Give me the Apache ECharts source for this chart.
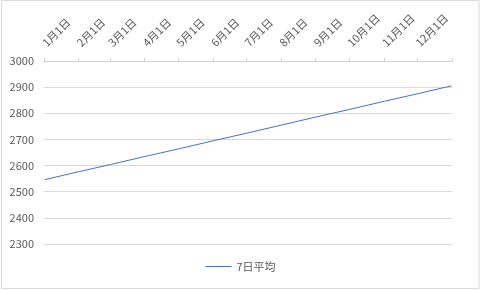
<!DOCTYPE html>
<html>
<head>
<meta charset="utf-8">
<script src="https://cdn.jsdelivr.net/npm/echarts@6/dist/echarts.min.js"></script>
<style>
html,body{margin:0;padding:0;background:#fff;}
#chart{width:481px;height:290px;}
</style>
</head>
<body>
<div id="chart"></div>
<script>
// Series values read at the start of each month (plus the last day)
const pointDates = ['2021-01-01','2021-02-01','2021-03-01','2021-04-01','2021-05-01','2021-06-01','2021-07-01','2021-08-01','2021-09-01','2021-10-01','2021-11-01','2021-12-01','2021-12-31'];
const avgValues  = [2546, 2577, 2604, 2635, 2664, 2695, 2724, 2755, 2786, 2815, 2846, 2875, 2905];
const seriesName = '7日平均';
const yMin = 2300, yMax = 3000, yStep = 100;

// Daily category axis for 2021
const days = [];
for (let d = new Date(Date.UTC(2021,0,1)); d.getUTCFullYear() === 2021; d.setUTCDate(d.getUTCDate()+1)) {
  const m = String(d.getUTCMonth()+1).padStart(2,'0');
  const dd = String(d.getUTCDate()).padStart(2,'0');
  days.push('2021-' + m + '-' + dd);
}
const isMonthStart = (i) => days[i] && days[i].slice(8) === '01';
const data = days.map(() => null);
pointDates.forEach((dt, k) => { data[days.indexOf(dt)] = avgValues[k]; });

const font = 'Noto Sans CJK JP';
const chart = echarts.init(document.getElementById('chart'));
chart.setOption({
  animation: false,
  textStyle: {fontFamily: font},
  graphic: [{type:'rect', shape:{x:1.5, y:0.5, width:477.5, height:288}, style:{fill:'none', stroke:'#d9d9d9', lineWidth:1}}],
  grid: {left:44, right:29, top:61, bottom:46, containLabel:false},
  legend: {
    bottom: 13, left: 'center',
    itemWidth: 26, itemHeight: 1, itemGap: 4,
    icon: 'rect',
    textStyle: {color:'#595959', fontSize:11, fontFamily: font},
    data: [seriesName]
  },
  xAxis: {
    type: 'category',
    position: 'top',
    data: days,
    boundaryGap: true,
    axisLine: {lineStyle:{color:'#d0d0d0'}},
    axisTick: {show:true, interval: (i) => isMonthStart(i), length: 3, lineStyle:{color:'#d0d0d0'}},
    axisLabel: {
      interval: (i) => isMonthStart(i),
      rotate: -45,
      margin: 9,
      padding: [0, 0, 0, 5],
      verticalAlign: 'bottom',
      color: '#595959',
      fontSize: 11,
      fontFamily: font,
      formatter: (v) => parseInt(v.slice(5,7),10) + '月' + parseInt(v.slice(8),10) + '日'
    },
    splitLine: {show:false}
  },
  yAxis: {
    type: 'value',
    min: yMin, max: yMax, interval: yStep,
    axisLine: {show:false},
    axisTick: {show:false},
    axisLabel: {color:'#595959', fontSize:11, margin:10, fontFamily: font, formatter: (v) => String(v)},
    splitLine: {lineStyle:{color:'#d9d9d9'}}
  },
  series: [{
    name: seriesName,
    type: 'line',
    data: data,
    connectNulls: true,
    showSymbol: false,
    symbol: 'none',
    lineStyle: {color:'#4472c4', width:1},
    itemStyle: {color:'#4472c4'}
  }]
});
</script>
</body>
</html>
